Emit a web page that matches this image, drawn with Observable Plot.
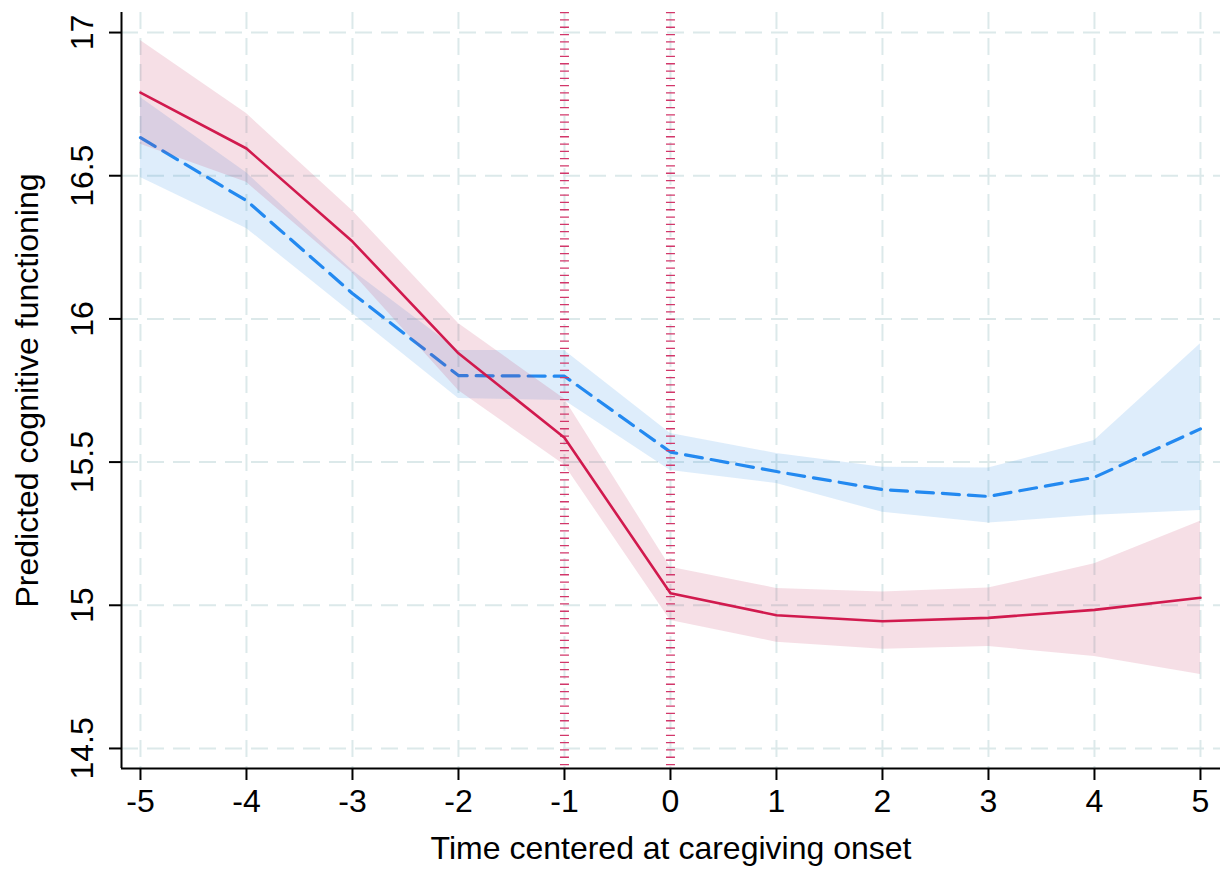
<!DOCTYPE html>
<html><head><meta charset="utf-8">
<script src="https://cdn.jsdelivr.net/npm/d3@7"></script>
<script src="https://cdn.jsdelivr.net/npm/@observablehq/plot@0.6"></script>
<style>html,body{margin:0;padding:0;background:#fff} svg{display:block}</style>
</head><body><div id="chart"></div>
<script>
// Time relative to caregiving onset
const time = [-5, -4, -3, -2, -1, 0, 1, 2, 3, 4, 5];
// Caregivers (solid red line)
const careMean = [16.79, 16.595, 16.27, 15.88, 15.585, 15.042, 14.965, 14.944, 14.956, 14.984, 15.026];
const careLow  = [16.61, 16.477, 16.16, 15.75, 15.49, 14.947, 14.871, 14.846, 14.856, 14.821, 14.758];
const careHigh = [16.972, 16.717, 16.378, 15.984, 15.72, 15.133, 15.059, 15.046, 15.06, 15.145, 15.293];
// Non-caregivers (dashed blue line)
const nonMean = [16.633, 16.413, 16.089, 15.802, 15.80, 15.535, 15.467, 15.404, 15.38, 15.447, 15.616];
const nonLow  = [16.494, 16.316, 16.019, 15.722, 15.715, 15.471, 15.425, 15.325, 15.287, 15.314, 15.331];
const nonHigh = [16.773, 16.51, 16.169, 15.89, 15.89, 15.60, 15.53, 15.482, 15.479, 15.575, 15.913];
// Axis ticks and markers
const xTicks = [-5, -4, -3, -2, -1, 0, 1, 2, 3, 4, 5];
const yTicks = [14.5, 15, 15.5, 16, 16.5, 17];
const onsetMarkers = [-1, 0];
const xDomain = [-5.179, 5.189];
const yDomain = [14.43, 17.07];
const xTitle = "Time centered at caregiving onset";
const yTitle = "Predicted cognitive functioning";

const care = time.map((t, i) => ({t, m: careMean[i], lo: careLow[i], hi: careHigh[i]}));
const non = time.map((t, i) => ({t, m: nonMean[i], lo: nonLow[i], hi: nonHigh[i]}));

const font = "'Liberation Sans', Arial, Helvetica, sans-serif";
const gridStyle = {stroke: "#dce9ea", strokeOpacity: 1, strokeWidth: 2, strokeDasharray: "17,9"};

const chart = Plot.plot({
  width: 1223, height: 869,
  marginLeft: 121, marginRight: 3, marginTop: 12, marginBottom: 101,
  x: {domain: xDomain},
  y: {domain: yDomain},
  style: {fontFamily: font, fontSize: "32px", color: "#000", background: "#fff", overflow: "visible"},
  marks: [
    Plot.gridX(xTicks, gridStyle),
    Plot.gridY(yTicks, gridStyle),
    Plot.areaY(non, {x: "t", y1: "lo", y2: "hi", fill: "#2387e4", fillOpacity: 0.15}),
    Plot.line(non, {x: "t", y: "m", stroke: "#2389f0", strokeWidth: 3.2, strokeDasharray: "17,9"}),
    Plot.areaY(care, {x: "t", y1: "lo", y2: "hi", fill: "#c32a58", fillOpacity: 0.15}),
    Plot.ruleX(onsetMarkers, {stroke: "#d2376a", strokeWidth: 9, strokeDasharray: "1.3,6"}),
    Plot.line(care, {x: "t", y: "m", stroke: "#d11a4e", strokeWidth: 2.6}),
    Plot.ruleX([xDomain[0]], {stroke: "#000", strokeWidth: 2}),
    Plot.ruleY([yDomain[0]], {stroke: "#000", strokeWidth: 2}),
    Plot.axisX(xTicks, {tickSize: 12, tickPadding: 9, tickFormat: d => String(d), stroke: "#000", strokeWidth: 2, fontSize: 32, label: null}),
    Plot.axisY(yTicks, {tickSize: 12, tickFormat: () => "", stroke: "#000", strokeWidth: 2, label: null}),
    Plot.text(yTicks, {y: d => d, text: d => String(d), frameAnchor: "left", rotate: -90, dx: -39, textAnchor: "middle", lineAnchor: "middle", fontSize: 32, fill: "#000"}),
    Plot.text([xTitle], {text: d => d, frameAnchor: "bottom", dy: 80, lineAnchor: "middle", textAnchor: "middle", fontSize: 32, fill: "#000"}),
    Plot.text([yTitle], {text: d => d, frameAnchor: "left", rotate: -90, dx: -94, lineAnchor: "middle", textAnchor: "middle", fontSize: 32, fill: "#000"})
  ]
});
document.getElementById("chart").appendChild(chart);
</script>
</body></html>
